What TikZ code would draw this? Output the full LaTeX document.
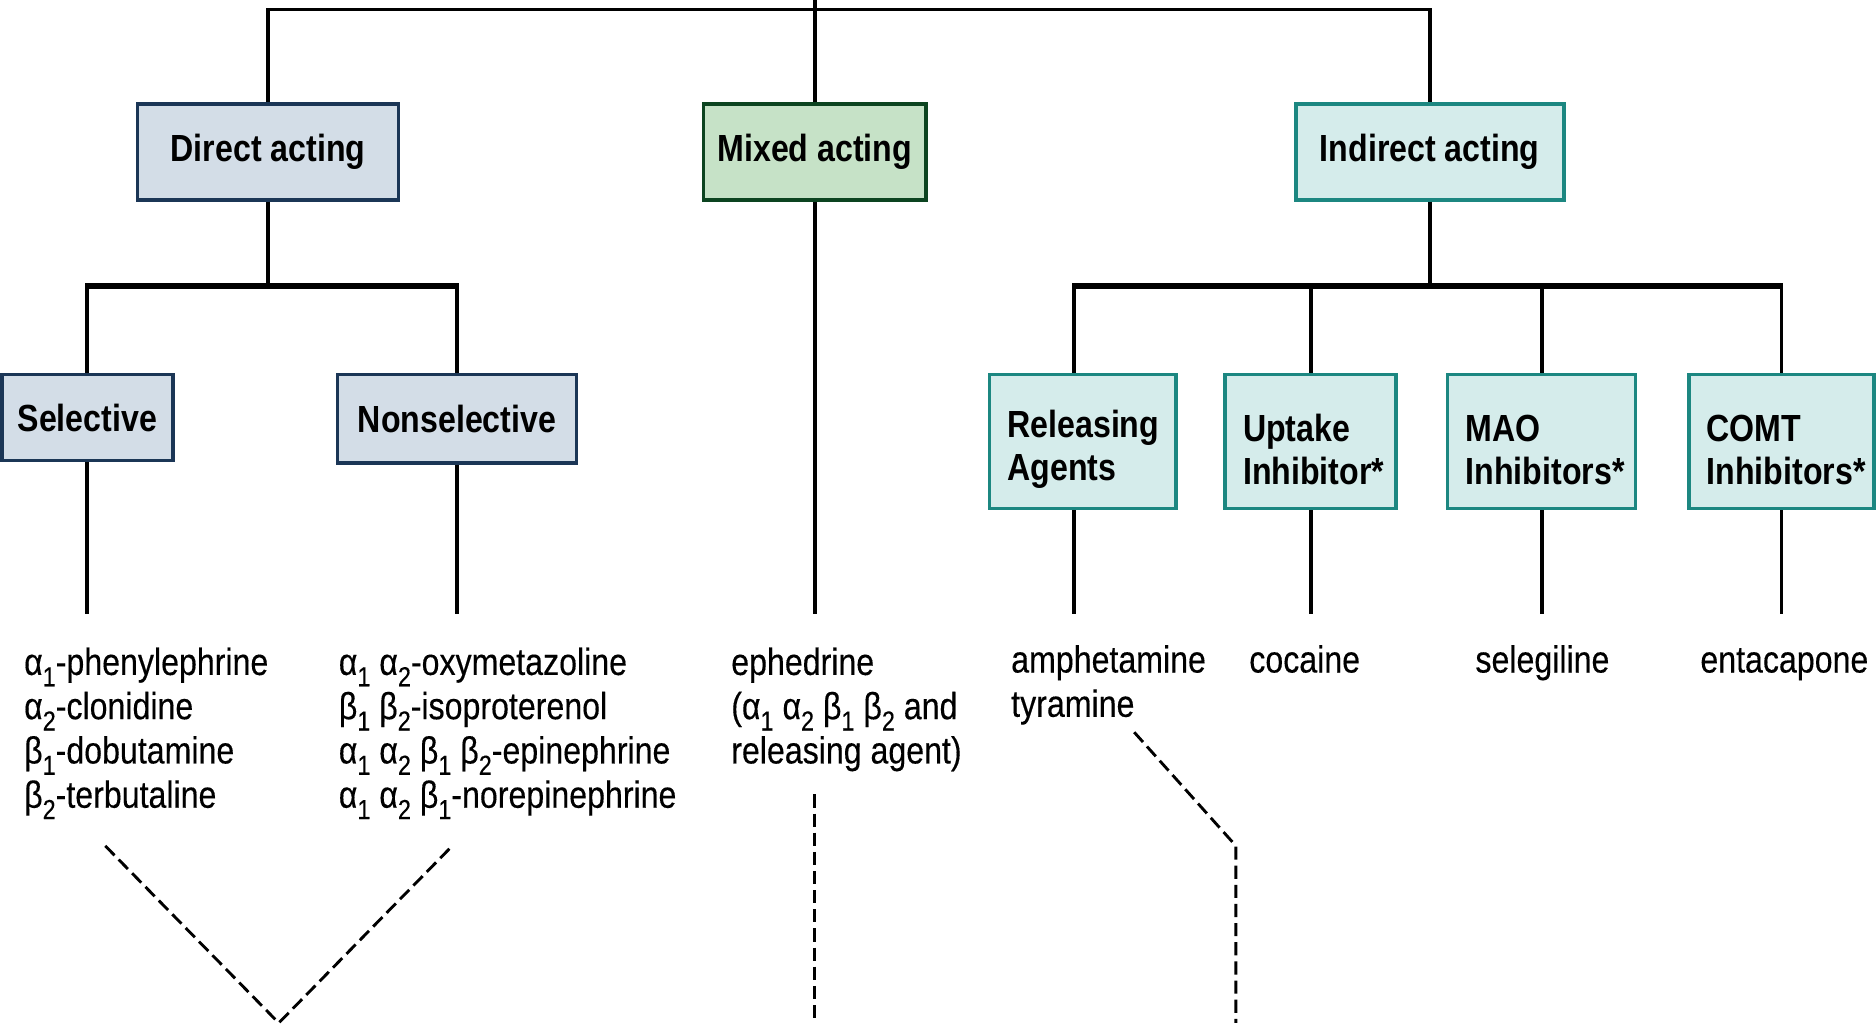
\documentclass[tikz,border=0pt]{standalone}
\usepackage{fontspec}
\setmainfont{Liberation Sans}[FakeStretch=0.85]
\newfontfamily\listfont{Liberation Sans}[FakeStretch=0.85, FakeBold=0.3]
\newcommand\lsub[1]{\raisebox{-0.3em}{\fontsize{23}{23}\selectfont #1}}
\definecolor{dfill}{HTML}{D3DDE7}
\definecolor{dline}{HTML}{1B3656}
\definecolor{mfill}{HTML}{C6E2C7}
\definecolor{mline}{HTML}{0C4420}
\definecolor{ifill}{HTML}{D5ECEB}
\definecolor{iline}{HTML}{1C8781}
\tikzset{
  conn/.style={line width=3.2pt},
  barline/.style={line width=4.4pt},
  dashline/.style={line width=2.4pt, dash pattern=on 11pt off 5pt},
  box/.style={draw, line width=3pt, inner sep=0pt, font=\fontsize{31.6}{36}\selectfont\bfseries},
  dbox/.style={box, fill=dfill, draw=dline},
  mbox/.style={box, fill=mfill, draw=mline},
  ibox/.style={box, fill=ifill, draw=iline},
  subbox/.style={ibox, inner xsep=15pt, align=left, minimum height=112pt},
  txt/.style={anchor=north west, inner sep=0pt, align=left, font=\listfont\fontsize{31.6}{37}\selectfont},
}
\begin{document}
\begin{tikzpicture}[x=1pt,y=-1pt]
\useasboundingbox (0,0) rectangle (1568,859);
% level 1
\node[dbox, minimum width=218pt, minimum height=80pt] (direct) at (224,127) {Direct acting};
\node[mbox, minimum width=186pt, minimum height=80pt] (mixed) at (681,127) {Mixed acting};
\node[ibox, minimum width=224pt, minimum height=80pt] (indirect) at (1195,127) {Indirect acting};
% level 2 direct
\node[dbox, minimum width=143pt, minimum height=72pt] (sel) at (73,349) {Selective};
\node[dbox, minimum width=200pt, minimum height=74pt] (nonsel) at (382,350) {Nonselective};
% level 2 indirect
\node[subbox, text width=126pt] (rel) at (905,369) {\rule{0pt}{36pt}Releasing\\Agents};
\node[subbox, text width=113pt] (upt) at (1095.5,369) {\rule{0pt}{36pt}Uptake\\Inhibitor*};
\node[subbox, text width=127pt] (mao) at (1288.5,369) {\rule{0pt}{36pt}MAO\\Inhibitors*};
\node[subbox, text width=125pt] (comt) at (1489,369) {\rule{0pt}{36pt}COMT\\Inhibitors*};
% top connectors
\coordinate (topj) at (681,8);
\coordinate (topedge) at (681,0);
\draw[conn] (direct.north) |- (topj) -| (indirect.north);
\draw[conn] (mixed.north) -- (topedge);
% direct branch
\coordinate (dj) at (226,239);
\draw[conn] (direct.south) -- (direct.south |- dj);
\draw[conn] (sel.north) -- (sel.north |- dj);
\draw[conn] (nonsel.north) -- (nonsel.north |- dj);
\draw[barline] ([xshift=-1.6pt]sel.north |- dj) -- ([xshift=1.6pt]nonsel.north |- dj);
% indirect branch
\coordinate (ij) at (1194,239);
\coordinate (relt) at ([xshift=-7pt]rel.north);
\coordinate (relb) at ([xshift=-7pt]rel.south);
\draw[conn] (indirect.south) -- (indirect.south |- ij);
\draw[conn] (relt) -- (relt |- ij);
\draw[conn] (upt.north) -- (upt.north |- ij);
\draw[conn] (mao.north) -- (mao.north |- ij);
\draw[conn] (comt.north) -- (comt.north |- ij);
\draw[barline] ([xshift=-1.6pt]relt |- ij) -- ([xshift=1.6pt]comt.north |- ij);
% lower stems
\coordinate (low) at (0,513);
\draw[conn] (sel.south) -- (sel.south |- low);
\draw[conn] (nonsel.south) -- (nonsel.south |- low);
\draw[conn] (mixed.south) -- (mixed.south |- low);
\draw[conn] (relb) -- (relb |- low);
\draw[conn] (upt.south) -- (upt.south |- low);
\draw[conn] (mao.south) -- (mao.south |- low);
\draw[conn] (comt.south) -- (comt.south |- low);
% drug lists
\node[txt] (seltxt) at (20,538) {\strut α\lsub{1}-phenylephrine\\α\lsub{2}-clonidine\\β\lsub{1}-dobutamine\\β\lsub{2}-terbutaline};
\node[txt] (nstxt) at (283,538) {\strut α\lsub{1} α\lsub{2}-oxymetazoline\\β\lsub{1} β\lsub{2}-isoproterenol\\α\lsub{1} α\lsub{2} β\lsub{1} β\lsub{2}-epinephrine\\α\lsub{1} α\lsub{2} β\lsub{1}-norepinephrine};
\node[txt] (eph) at (611,538) {\strut ephedrine\\(α\lsub{1} α\lsub{2} β\lsub{1} β\lsub{2} and\\releasing agent)};
\node[txt] (amph) at (845,536) {\strut amphetamine\\tyramine};
\node[txt] (coc) at (1044,536) {\strut cocaine};
\node[txt] (sele) at (1233,536) {\strut selegiline};
\node[txt] (enta) at (1421,536) {\strut entacapone};
% dashed lines
\coordinate (va) at (88,707);
\coordinate (vb) at (233,855);
\coordinate (vc) at (378,707);
\draw[dashline] (va) -- (vb) -- (vc);
\coordinate (ea) at (681,664);
\coordinate (eb) at (681,855);
\draw[dashline] (ea) -- (eb);
\coordinate (ta) at (948,612);
\coordinate (tb) at (1033,707);
\coordinate (tc) at (1033,855);
\draw[dashline] (ta) -- (tb) -- (tc);
\end{tikzpicture}
\end{document}
